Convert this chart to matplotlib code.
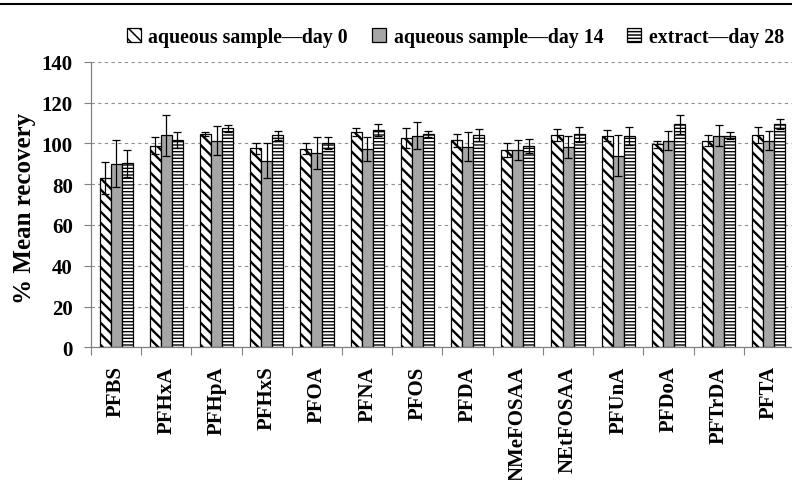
import matplotlib
matplotlib.use("Agg")
import matplotlib.pyplot as plt
import numpy as np
from matplotlib.lines import Line2D

compounds = ["PFBS", "PFHxA", "PFHpA", "PFHxS", "PFOA", "PFNA", "PFOS", "PFDA",
             "NMeFOSAA", "NEtFOSAA", "PFUnA", "PFDoA", "PFTrDA", "PFTA"]
series_names = ["aqueous sample\u2014day 0", "aqueous sample\u2014day 14", "extract\u2014day 28"]

day0 = [83.0, 98.9, 104.6, 97.5, 97.4, 105.6, 102.5, 101.5, 96.7, 104.2, 103.8, 99.5, 101.3, 104.2]
day0_err = [8.0, 4.0, 1.0, 2.8, 2.8, 2.1, 4.9, 3.3, 3.4, 2.9, 2.8, 1.8, 2.8, 3.9]
day14 = [90.0, 103.9, 101.3, 91.5, 95.4, 97.1, 103.8, 98.4, 96.7, 98.4, 94.0, 101.3, 103.8, 101.3]
day14_err = [11.6, 10.0, 7.0, 8.7, 7.8, 6.0, 6.4, 7.0, 4.7, 5.4, 10.0, 4.6, 5.0, 4.6]
day28 = [90.2, 101.6, 107.4, 103.9, 100.2, 106.7, 104.4, 104.2, 98.7, 104.4, 103.8, 109.3, 103.8, 109.5]
day28_err = [6.7, 4.0, 1.8, 2.3, 3.0, 3.0, 1.5, 3.0, 3.6, 3.8, 4.4, 4.7, 1.6, 2.4]

yticks = [0, 20, 40, 60, 80, 100, 120, 140]

plt.rcParams["font.family"] = ["Liberation Serif", "DejaVu Serif"]
plt.rcParams["font.weight"] = "bold"
plt.rcParams["hatch.linewidth"] = 1.1

fig = plt.figure(figsize=(7.92, 4.81), dpi=100)
W, H = 792, 481
ax = fig.add_axes([91 / W, (H - 348.3) / H, 703 / W, 285.6 / H])

x = np.arange(len(compounds)) + 0.5
bw = 0.22
values = [day0, day14, day28]
errs = [day0_err, day14_err, day28_err]
styles = [
    dict(facecolor="white", hatch="\\\\\\"),
    dict(facecolor="#a6a6a6", hatch=None),
    dict(facecolor="white", hatch="-----"),
]
hatch_lw = [1.7, 1.0, 1.0]
offsets = [-bw, 0, bw]
for vals, err, st, off, name, hlw in zip(values, errs, styles, offsets, series_names, hatch_lw):
    with plt.rc_context({"hatch.linewidth": hlw}):
        bars = ax.bar(x + off, vals, width=bw, edgecolor="black", linewidth=0.9,
                      label=name, zorder=2, **st)
    for b in bars:
        if hasattr(b, "set_hatch_linewidth"):
            b.set_hatch_linewidth(hlw)
    ax.errorbar(x + off, vals, yerr=err, fmt="none", ecolor="black",
                elinewidth=0.9, capsize=2.6, capthick=0.9, zorder=3)

ax.set_xlim(0, len(compounds))
ax.set_ylim(0, 140)
ax.set_yticks(yticks)
ax.set_yticklabels([str(v) for v in yticks], fontsize=15, fontweight="bold")
ax.tick_params(axis="y", length=5, width=0.8, color="#808080", pad=8)

ax.set_xticks(np.arange(len(compounds) + 1))
ax.set_xticklabels([])
ax.tick_params(axis="x", which="major", length=6, width=0.8, color="#808080")
ax.set_xticks(x, minor=True)
ax.set_xticklabels(compounds, minor=True, rotation=90, fontsize=15,
                   fontweight="bold", va="top", ha="center")
ax.tick_params(axis="x", which="minor", length=0, pad=13)

ax.yaxis.grid(True, linestyle=(0, (3, 3)), color="#909090", linewidth=0.8, zorder=0)
ax.set_axisbelow(True)
for s in ["top", "right"]:
    ax.spines[s].set_visible(False)
for s in ["left", "bottom"]:
    ax.spines[s].set_color("#808080")
    ax.spines[s].set_linewidth(0.9)

ax.set_ylabel("% Mean recovery", fontsize=18, fontweight="bold")
ax.yaxis.set_label_coords(-0.078, 0.49)

leg = fig.legend(loc="center", bbox_to_anchor=(0.575, 1 - 38 / H), ncol=3,
                 frameon=False, prop=dict(size=14.3, weight="bold"),
                 handlelength=0.7, handleheight=0.7, handletextpad=0.4,
                 columnspacing=1.2, borderaxespad=0)

fig.add_artist(Line2D([0, 1], [1 - 5 / H, 1 - 5 / H], transform=fig.transFigure,
                      color="black", linewidth=1.5))

fig.savefig("out.png", dpi=100)
